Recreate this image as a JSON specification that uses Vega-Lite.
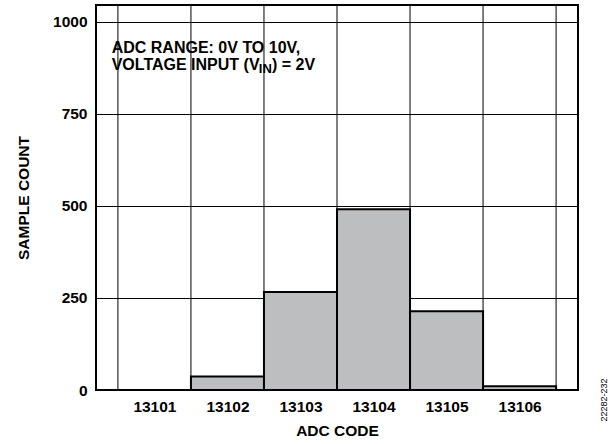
{
  "$schema": "https://vega.github.io/schema/vega-lite/v6.json",
  "width": 482,
  "height": 385,
  "autosize": {"type": "none"},
  "padding": {"left": 96, "top": 5, "right": 36, "bottom": 54},
  "background": "white",
  "config": {
    "view": {"stroke": "black", "strokeWidth": 2},
    "axis": {
      "labelFont": "Liberation Sans",
      "labelFontWeight": "bold",
      "labelFontSize": 15.5,
      "labelColor": "black",
      "titleFont": "Liberation Sans",
      "titleFontWeight": "bold",
      "titleFontSize": 15.5,
      "titleColor": "black",
      "ticks": false,
      "domain": false
    },
    "text": {"font": "Liberation Sans", "fontWeight": "bold", "color": "black"}
  },
  "datasets": {
    "hist": [
      {"code": 13101, "lo": 13100.5, "hi": 13101.5, "count": 0},
      {"code": 13102, "lo": 13101.5, "hi": 13102.5, "count": 37},
      {"code": 13103, "lo": 13102.5, "hi": 13103.5, "count": 266},
      {"code": 13104, "lo": 13103.5, "hi": 13104.5, "count": 491},
      {"code": 13105, "lo": 13104.5, "hi": 13105.5, "count": 214},
      {"code": 13106, "lo": 13105.5, "hi": 13106.5, "count": 10}
    ],
    "edges": [
      {"edge": 13100.5}, {"edge": 13101.5}, {"edge": 13102.5},
      {"edge": 13103.5}, {"edge": 13104.5}, {"edge": 13105.5}, {"edge": 13106.5}
    ],
    "notes": [
      {"x": 13100.415, "y": 916, "text": "ADC RANGE: 0V TO 10V,", "size": 16},
      {"x": 13100.415, "y": 869, "text": "VOLTAGE INPUT (V", "size": 16},
      {"x": 13102.43, "y": 860, "text": "IN", "size": 13},
      {"x": 13102.61, "y": 869, "text": ") = 2V", "size": 16}
    ]
  },
  "layer": [
    {
      "data": {"name": "edges"},
      "mark": {"type": "rule", "color": "black", "strokeWidth": 1},
      "encoding": {
        "x": {"field": "edge", "type": "quantitative", "scale": {"domain": [13100.2, 13106.8], "nice": false, "zero": false}}
      }
    },
    {
      "data": {"name": "hist"},
      "mark": {"type": "rect", "fill": "#BCBEC0", "stroke": "black", "strokeWidth": 2},
      "encoding": {
        "x": {
          "field": "lo", "type": "quantitative",
          "scale": {"domain": [13100.2, 13106.8], "nice": false, "zero": false},
          "axis": {"title": "ADC CODE", "values": [13101, 13102, 13103, 13104, 13105, 13106], "format": "d", "grid": false, "labelPadding": 9, "titlePadding": 9}
        },
        "x2": {"field": "hi"},
        "y": {
          "field": "count", "type": "quantitative",
          "scale": {"domain": [0, 1046], "nice": false},
          "axis": {"title": "SAMPLE COUNT", "values": [0, 250, 500, 750, 1000], "format": "d", "grid": true, "gridColor": "black", "gridWidth": 1, "gridOpacity": 1, "labelPadding": 9, "titlePadding": 21}
        },
        "y2": {"datum": 0}
      }
    },
    {
      "data": {"name": "notes"},
      "mark": {"type": "text", "align": "left", "baseline": "alphabetic"},
      "encoding": {
        "x": {"field": "x", "type": "quantitative"},
        "y": {"field": "y", "type": "quantitative"},
        "text": {"field": "text"},
        "size": {"field": "size", "type": "quantitative", "scale": null}
      }
    },
    {
      "data": {"values": [{"x": 13107.15, "y": -27, "text": "22282-232"}]},
      "mark": {"type": "text", "angle": 270, "align": "center", "baseline": "middle", "fontWeight": "normal", "fontSize": 9},
      "encoding": {
        "x": {"field": "x", "type": "quantitative"},
        "y": {"field": "y", "type": "quantitative"},
        "text": {"field": "text"}
      }
    }
  ]
}
